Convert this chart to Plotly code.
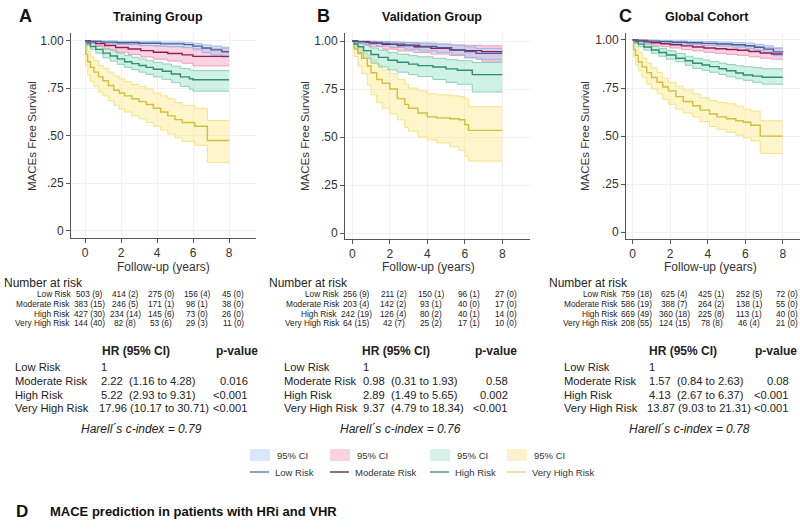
import plotly.graph_objects as go

W, H = 800, 530
def px(x): return x / W
def py(y): return 1 - y / H

SANS = "Liberation Sans, Arial, sans-serif"

# ---------------- Kaplan-Meier curves ----------------
# Panel A - Training Group
A_low_t  = [0, 0.3, 0.9, 1.8, 3.0, 4.2, 5.5, 6.0, 6.5, 7.0, 7.6, 8.0]
A_low_s  = [1.0, 0.997, 0.993, 0.99, 0.987, 0.984, 0.98, 0.972, 0.962, 0.952, 0.942, 0.942]
A_low_lo = [1.0, 0.99, 0.985, 0.98, 0.975, 0.97, 0.964, 0.952, 0.938, 0.926, 0.914, 0.914]
A_low_hi = [1.0, 1.0, 0.999, 0.997, 0.995, 0.993, 0.99, 0.985, 0.978, 0.972, 0.966, 0.966]

A_mod_t  = [0, 0.2, 0.6, 1.1, 1.7, 2.4, 3.1, 3.8, 4.6, 5.4, 6.0, 8.0]
A_mod_s  = [1.0, 0.995, 0.985, 0.975, 0.965, 0.957, 0.948, 0.94, 0.933, 0.926, 0.918, 0.918]
A_mod_lo = [1.0, 0.985, 0.97, 0.955, 0.94, 0.928, 0.915, 0.903, 0.893, 0.882, 0.868, 0.868]
A_mod_hi = [1.0, 1.0, 0.996, 0.99, 0.985, 0.98, 0.976, 0.972, 0.968, 0.964, 0.96, 0.958]

A_hi_t  = [0, 0.1, 0.3, 0.6, 1.0, 1.4, 1.8, 2.2, 2.6, 3.0, 3.4, 3.8, 4.3, 4.8, 5.3, 5.8, 6.0, 8.0]
A_hi_s  = [1.0, 0.985, 0.97, 0.955, 0.935, 0.92, 0.905, 0.89, 0.88, 0.87, 0.86, 0.85, 0.84, 0.825, 0.81, 0.8, 0.795, 0.795]
A_hi_lo = [1.0, 0.975, 0.955, 0.935, 0.91, 0.893, 0.876, 0.86, 0.848, 0.835, 0.823, 0.81, 0.797, 0.78, 0.76, 0.745, 0.735, 0.735]
A_hi_hi = [1.0, 0.995, 0.985, 0.975, 0.96, 0.948, 0.935, 0.922, 0.913, 0.904, 0.895, 0.886, 0.878, 0.866, 0.854, 0.846, 0.843, 0.843]

A_vh_t  = [0, 0.05, 0.15, 0.3, 0.5, 0.75, 1.0, 1.3, 1.6, 1.9, 2.2, 2.6, 3.0, 3.4, 3.8, 4.2, 4.6, 5.0, 5.4, 6.1, 6.8, 8.0]
A_vh_s  = [1.0, 0.93, 0.89, 0.86, 0.835, 0.81, 0.79, 0.765, 0.74, 0.725, 0.71, 0.695, 0.68, 0.665, 0.645, 0.625, 0.605, 0.585, 0.57, 0.55, 0.475, 0.475]
A_vh_lo = [1.0, 0.87, 0.82, 0.785, 0.76, 0.73, 0.71, 0.685, 0.66, 0.64, 0.625, 0.605, 0.59, 0.57, 0.55, 0.53, 0.51, 0.49, 0.47, 0.45, 0.36, 0.36]
A_vh_hi = [1.0, 0.97, 0.945, 0.915, 0.895, 0.87, 0.855, 0.835, 0.815, 0.80, 0.785, 0.77, 0.76, 0.745, 0.725, 0.71, 0.695, 0.675, 0.66, 0.645, 0.58, 0.58]

# Panel B - Validation Group
B_low_t  = [0, 0.2, 0.7, 1.3, 2.0, 2.8, 3.6, 4.5, 5.3, 6.0, 6.6, 8.0]
B_low_s  = [1.0, 0.997, 0.993, 0.988, 0.984, 0.978, 0.972, 0.966, 0.955, 0.945, 0.936, 0.936]
B_low_lo = [1.0, 0.99, 0.982, 0.974, 0.966, 0.957, 0.948, 0.94, 0.928, 0.915, 0.905, 0.905]
B_low_hi = [1.0, 1.0, 0.999, 0.997, 0.995, 0.992, 0.99, 0.985, 0.978, 0.97, 0.962, 0.962]

B_mod_t  = [0, 0.3, 0.9, 1.6, 2.4, 3.3, 4.2, 5.2, 6.0, 6.9, 8.0]
B_mod_s  = [1.0, 0.997, 0.99, 0.983, 0.977, 0.97, 0.962, 0.953, 0.95, 0.945, 0.945]
B_mod_lo = [1.0, 0.985, 0.97, 0.958, 0.948, 0.94, 0.932, 0.925, 0.912, 0.895, 0.895]
B_mod_hi = [1.0, 1.0, 0.999, 0.995, 0.992, 0.988, 0.984, 0.98, 0.978, 0.975, 0.975]

B_hi_t  = [0, 0.1, 0.3, 0.6, 1.0, 1.4, 1.9, 2.4, 3.0, 3.5, 4.3, 5.0, 5.6, 6.4, 8.0]
B_hi_s  = [1.0, 0.985, 0.97, 0.95, 0.93, 0.915, 0.90, 0.89, 0.88, 0.872, 0.865, 0.855, 0.848, 0.825, 0.825]
B_hi_lo = [1.0, 0.96, 0.94, 0.91, 0.885, 0.865, 0.85, 0.838, 0.825, 0.815, 0.80, 0.785, 0.775, 0.735, 0.735]
B_hi_hi = [1.0, 0.998, 0.99, 0.978, 0.963, 0.952, 0.94, 0.932, 0.924, 0.918, 0.91, 0.903, 0.898, 0.888, 0.888]

B_vh_t  = [0, 0.1, 0.3, 0.5, 0.8, 1.0, 1.3, 1.6, 2.0, 2.4, 2.8, 3.0, 3.5, 4.0, 4.5, 5.2, 5.7, 6.0, 6.2, 8.0]
B_vh_s  = [1.0, 0.96, 0.935, 0.91, 0.87, 0.835, 0.80, 0.78, 0.75, 0.70, 0.67, 0.65, 0.625, 0.605, 0.60, 0.595, 0.59, 0.565, 0.535, 0.535]
B_vh_lo = [1.0, 0.92, 0.87, 0.83, 0.77, 0.72, 0.68, 0.65, 0.62, 0.59, 0.55, 0.53, 0.50, 0.485, 0.47, 0.45, 0.43, 0.40, 0.375, 0.375]
B_vh_hi = [1.0, 0.99, 0.97, 0.95, 0.925, 0.90, 0.875, 0.85, 0.83, 0.80, 0.775, 0.755, 0.74, 0.725, 0.72, 0.715, 0.71, 0.70, 0.658, 0.658]

# Panel C - Global Cohort
C_low_t  = [0, 0.3, 0.8, 1.4, 2.1, 2.9, 3.7, 4.5, 5.3, 6.0, 6.5, 7.0, 7.5, 8.0]
C_low_s  = [1.0, 0.997, 0.994, 0.991, 0.988, 0.985, 0.982, 0.979, 0.975, 0.97, 0.962, 0.952, 0.938, 0.935]
C_low_lo = [1.0, 0.992, 0.987, 0.983, 0.979, 0.975, 0.971, 0.967, 0.962, 0.955, 0.945, 0.933, 0.918, 0.915]
C_low_hi = [1.0, 1.0, 0.999, 0.997, 0.995, 0.993, 0.991, 0.989, 0.986, 0.983, 0.977, 0.969, 0.958, 0.956]

C_mod_t  = [0, 0.2, 0.6, 1.0, 1.5, 2.0, 2.6, 3.2, 3.8, 4.4, 5.0, 5.6, 6.2, 6.8, 7.4, 8.0]
C_mod_s  = [1.0, 0.996, 0.99, 0.985, 0.98, 0.975, 0.969, 0.963, 0.958, 0.954, 0.95, 0.946, 0.94, 0.932, 0.927, 0.927]
C_mod_lo = [1.0, 0.99, 0.98, 0.972, 0.965, 0.958, 0.95, 0.943, 0.936, 0.93, 0.925, 0.92, 0.912, 0.905, 0.9, 0.9]
C_mod_hi = [1.0, 1.0, 0.998, 0.995, 0.992, 0.99, 0.987, 0.983, 0.98, 0.977, 0.974, 0.971, 0.967, 0.961, 0.957, 0.957]

C_hi_t  = [0, 0.1, 0.3, 0.6, 1.0, 1.4, 1.8, 2.3, 2.8, 3.2, 3.7, 4.1, 4.6, 5.0, 5.5, 5.9, 6.4, 6.9, 8.0]
C_hi_s  = [1.0, 0.99, 0.978, 0.963, 0.948, 0.935, 0.922, 0.905, 0.892, 0.879, 0.87, 0.861, 0.85, 0.84, 0.828, 0.818, 0.812, 0.806, 0.806]
C_hi_lo = [1.0, 0.982, 0.965, 0.947, 0.93, 0.915, 0.9, 0.886, 0.868, 0.852, 0.842, 0.832, 0.82, 0.808, 0.798, 0.79, 0.78, 0.77, 0.766]
C_hi_hi = [1.0, 0.998, 0.99, 0.978, 0.966, 0.955, 0.944, 0.93, 0.915, 0.905, 0.896, 0.888, 0.879, 0.872, 0.866, 0.861, 0.856, 0.85, 0.847]

C_vh_t  = [0, 0.05, 0.15, 0.3, 0.5, 0.75, 1.0, 1.3, 1.6, 1.9, 2.3, 2.7, 3.2, 3.6, 4.1, 4.5, 5.0, 5.5, 5.9, 6.3, 6.8, 8.0]
C_vh_s  = [1.0, 0.95, 0.92, 0.885, 0.86, 0.83, 0.805, 0.78, 0.755, 0.735, 0.705, 0.68, 0.658, 0.635, 0.615, 0.60, 0.59, 0.58, 0.572, 0.556, 0.50, 0.50]
C_vh_lo = [1.0, 0.91, 0.87, 0.84, 0.805, 0.77, 0.745, 0.72, 0.69, 0.665, 0.64, 0.62, 0.60, 0.575, 0.55, 0.535, 0.52, 0.505, 0.49, 0.475, 0.41, 0.41]
C_vh_hi = [1.0, 0.985, 0.965, 0.935, 0.905, 0.88, 0.855, 0.83, 0.80, 0.78, 0.76, 0.74, 0.72, 0.70, 0.685, 0.675, 0.668, 0.655, 0.64, 0.63, 0.58, 0.58]

# ---------------- tables ----------------
groups = ["Low Risk", "Moderate Risk", "High Risk", "Very High Risk"]
x_ticks = [0, 2, 4, 6, 8]
y_ticks = [0, 0.25, 0.5, 0.75, 1.0]
y_ticktext = ["0", ".25", ".50", ".75", "1.00"]

A_risk_low = [503, 9, 414, 2, 275, 0, 156, 4, 45, 0]
A_risk_mod = [383, 15, 246, 5, 171, 1, 98, 1, 38, 0]
A_risk_hi  = [427, 30, 234, 14, 145, 6, 73, 0, 26, 0]
A_risk_vh  = [144, 40, 82, 8, 53, 6, 29, 3, 11, 0]
B_risk_low = [256, 9, 211, 2, 150, 1, 96, 1, 27, 0]
B_risk_mod = [203, 4, 142, 2, 93, 1, 40, 0, 17, 0]
B_risk_hi  = [242, 19, 126, 4, 80, 2, 40, 1, 14, 0]
B_risk_vh  = [64, 15, 42, 7, 25, 2, 17, 1, 10, 0]
C_risk_low = [759, 18, 625, 4, 425, 1, 252, 5, 72, 0]
C_risk_mod = [586, 19, 388, 7, 264, 2, 138, 1, 55, 0]
C_risk_hi  = [669, 49, 360, 18, 225, 8, 113, 1, 40, 0]
C_risk_vh  = [208, 55, 124, 15, 78, 8, 46, 4, 21, 0]

A_hr = ["1", "2.22", "5.22", "17.96"]
A_ci = ["", "(1.16 to 4.28)", "(2.93 to 9.31)", "(10.17 to 30.71)"]
A_p  = ["", "0.016", "<0.001", "<0.001"]
B_hr = ["1", "0.98", "2.89", "9.37"]
B_ci = ["", "(0.31 to 1.93)", "(1.49 to 5.65)", "(4.79 to 18.34)"]
B_p  = ["", "0.58", "0.002", "<0.001"]
C_hr = ["1", "1.57", "4.13", "13.87"]
C_ci = ["", "(0.84 to 2.63)", "(2.67 to 6.37)", "(9.03 to 21.31)"]
C_p  = ["", "0.08", "<0.001", "<0.001"]
cindex = [0.79, 0.76, 0.78]
titles = ["Training Group", "Validation Group", "Global Cohort"]
letters = ["A", "B", "C"]

# ---------------- styles ----------------
FILL = ["rgba(165,198,242,0.45)", "rgba(240,150,185,0.42)", "rgba(140,222,195,0.42)", "rgba(252,232,140,0.45)"]
EDGE = ["rgba(150,180,230,0.9)", "rgba(232,150,180,0.9)", "rgba(130,205,180,0.9)", "rgba(245,225,130,0.95)"]
LINE = ["#4b5c9c", "#8e1f52", "#2f8f72", "#d2bf3a"]
LEG_BOX = ["#dbe7fa", "#fad3df", "#d6f1e6", "#fdf2cc"]
LEG_LINE = ["#4f6f82", "#4a2a38", "#3d8c7c", "#e2d27a"]

RISK_FS = 8.3
TAB_FS = 11.2

panels = [
    dict(curves=[(A_low_t, A_low_s, A_low_lo, A_low_hi), (A_mod_t, A_mod_s, A_mod_lo, A_mod_hi),
                 (A_hi_t, A_hi_s, A_hi_lo, A_hi_hi), (A_vh_t, A_vh_s, A_vh_lo, A_vh_hi)],
         risk=[A_risk_low, A_risk_mod, A_risk_hi, A_risk_vh], hr=A_hr, ci=A_ci, p=A_p,
         dx=(71, 256), dy=(33, 238), xr=[-0.778, 9.5], yr=[-0.038, 1.041], x0=85, sx=18.0,
         letter_x=17, title_x=158, ytitle_x=32, xtitle_x=163, nar_x=2,
         lab_x=13, hr_x=99, hdr_x=100, pv_x=214, p_r=250, c_x=141),
    dict(curves=[(B_low_t, B_low_s, B_low_lo, B_low_hi), (B_mod_t, B_mod_s, B_mod_lo, B_mod_hi),
                 (B_hi_t, B_hi_s, B_hi_lo, B_hi_hi), (B_vh_t, B_vh_s, B_vh_lo, B_vh_hi)],
         risk=[B_risk_low, B_risk_mod, B_risk_hi, B_risk_vh], hr=B_hr, ci=B_ci, p=B_p,
         dx=(345, 530), dy=(33, 239), xr=[-0.39, 9.48], yr=[-0.031, 1.042], x0=352.3, sx=18.75,
         letter_x=315, title_x=432, ytitle_x=305, xtitle_x=428, nar_x=267,
         lab_x=282, hr_x=361, hdr_x=360, pv_x=473, p_r=510, c_x=400),
    dict(curves=[(C_low_t, C_low_s, C_low_lo, C_low_hi), (C_mod_t, C_mod_s, C_mod_lo, C_mod_hi),
                 (C_hi_t, C_hi_s, C_hi_lo, C_hi_hi), (C_vh_t, C_vh_s, C_vh_lo, C_vh_hi)],
         risk=[C_risk_low, C_risk_mod, C_risk_hi, C_risk_vh], hr=C_hr, ci=C_ci, p=C_p,
         dx=(626, 800), dy=(33, 239), xr=[-0.357, 8.92], yr=[-0.035, 1.036], x0=632.7, sx=18.75,
         letter_x=617, title_x=707, ytitle_x=585, xtitle_x=710, nar_x=547,
         lab_x=562, hr_x=647, hdr_x=647, pv_x=753, p_r=791, c_x=689),
]

fig = go.Figure()
ann = []
shapes = []
layout_axes = {}

def est_w(s, size):
    w = 0
    for ch in s:
        if ch.isdigit():
            w += 0.556
        elif ch in "()":
            w += 0.333
        else:
            w += 0.278
    return w * size

def A(x, y, text, size=12, xanchor="left", color="#222", angle=0):
    ann.append(dict(x=px(x), y=py(y), xref="paper", yref="paper", text=text, showarrow=False,
                    xanchor=xanchor, yanchor="middle", textangle=angle,
                    font=dict(family=SANS, size=size, color=color)))

for i, P in enumerate(panels):
    sfx = "" if i == 0 else str(i + 1)
    xa, ya = "x" + sfx, "y" + sfx
    for g in [3, 2, 1, 0]:
        t, s, lo, hi = P["curves"][g]
        fig.add_trace(go.Scatter(x=t, y=hi, mode="lines", xaxis=xa, yaxis=ya,
                                 line=dict(color=EDGE[g], width=1, shape="hv"),
                                 showlegend=False, hoverinfo="skip"))
        fig.add_trace(go.Scatter(x=t, y=lo, mode="lines", xaxis=xa, yaxis=ya,
                                 line=dict(color=EDGE[g], width=1, shape="hv"),
                                 fill="tonexty", fillcolor=FILL[g],
                                 showlegend=False, hoverinfo="skip"))
    for g in [3, 2, 1, 0]:
        t, s, lo, hi = P["curves"][g]
        fig.add_trace(go.Scatter(x=t, y=s, mode="lines", xaxis=xa, yaxis=ya,
                                 line=dict(color=LINE[g], width=1.4, shape="hv"),
                                 name=groups[g], showlegend=False))
    axcommon = dict(showline=True, linecolor="#555", linewidth=1, ticks="outside", ticklen=4,
                    tickcolor="#555", tickfont=dict(family=SANS, size=12, color="#333"),
                    showgrid=True, gridcolor="#f1f1f1", gridwidth=1, zeroline=False, fixedrange=True)
    layout_axes["xaxis" + sfx] = dict(axcommon, domain=[px(P["dx"][0]), px(P["dx"][1])],
                                      range=P["xr"], anchor=ya, tickvals=x_ticks)
    layout_axes["yaxis" + sfx] = dict(axcommon, domain=[py(P["dy"][1]), py(P["dy"][0])],
                                      range=P["yr"], anchor=xa, tickvals=y_ticks, ticktext=y_ticktext)

    A(P["letter_x"], 16, "<b>" + letters[i] + "</b>", size=18, color="#111")
    A(P["title_x"], 17, "<b>" + titles[i] + "</b>", size=12.5, xanchor="center", color="#111")
    A(P["ytitle_x"], 136, "MACEs Free Survival", size=11.5, xanchor="center", angle=-90, color="#333")
    A(P["xtitle_x"], 267, "Follow-up (years)", size=12, xanchor="center", color="#333")
    A(P["nar_x"], 283, "Number at risk", size=12, color="#222")
    row_y = [294, 304, 313.5, 323]
    for g in range(4):
        r = P["risk"][g]
        first_left = 0
        for k in range(5):
            txt = f"{r[2*k]} ({r[2*k+1]})"
            cx = P["x0"] + P["sx"] * x_ticks[k] + 4
            A(cx, row_y[g], txt, size=RISK_FS, xanchor="center", color="#222")
            if k == 0:
                first_left = cx - est_w(txt, RISK_FS) / 2
        A(first_left - 1.5, row_y[g], groups[g], size=RISK_FS, xanchor="right", color="#222")
    A(P["hdr_x"], 351, "<b>HR (95% CI)</b>", size=12, color="#222")
    A(P["pv_x"], 351, "<b>p-value</b>", size=12, color="#222")
    tab_y = [367, 381, 394.5, 408]
    for g in range(4):
        A(P["lab_x"], tab_y[g], groups[g], size=TAB_FS, color="#222")
        hr = P["hr"][g]
        if P["ci"][g]:
            gap = "\u00a0" if len(hr) >= 5 else "\u00a0\u00a0"
            hr = hr + gap + P["ci"][g]
        A(P["hr_x"] - (2 if len(P["hr"][g]) >= 5 else 0), tab_y[g], hr, size=TAB_FS, color="#222")
        if P["p"][g]:
            A(P["p_r"], tab_y[g], P["p"][g], size=TAB_FS, xanchor="right", color="#222")
    A(P["c_x"], 429, f"<i>Harell\u00b4s c-index = {cindex[i]:.2f}</i>", size=12,
      xanchor="center", color="#222")

# ---------------- legend (drawn manually) ----------------
box_x = [250, 330, 430, 507]
for g in range(4):
    shapes.append(dict(type="rect", xref="paper", yref="paper", x0=px(box_x[g]), x1=px(box_x[g] + 20),
                       y0=py(461), y1=py(449), fillcolor=LEG_BOX[g], line=dict(width=0)))
    A(box_x[g] + 25, 455, "95% CI", size=9.5, color="#333")
    shapes.append(dict(type="line", xref="paper", yref="paper", x0=px(box_x[g]), x1=px(box_x[g] + 19),
                       y0=py(472), y1=py(472), line=dict(color=LEG_LINE[g], width=1.3)))
    A(box_x[g] + 23, 472, groups[g], size=9.5, color="#333")

A(14, 511, "<b>D</b>", size=17, color="#111")
A(48, 511, "<b>MACE prediction in patients with HRi and VHR</b>", size=13, color="#111")

fig.update_layout(width=W, height=H, margin=dict(l=0, r=0, t=0, b=0),
                  paper_bgcolor="white", plot_bgcolor="white", showlegend=False,
                  annotations=ann, shapes=shapes, **layout_axes)
fig.write_html("out.html", config={"displayModeBar": False},
               post_script="document.body.style.margin='0px';document.body.style.overflow='hidden';")
